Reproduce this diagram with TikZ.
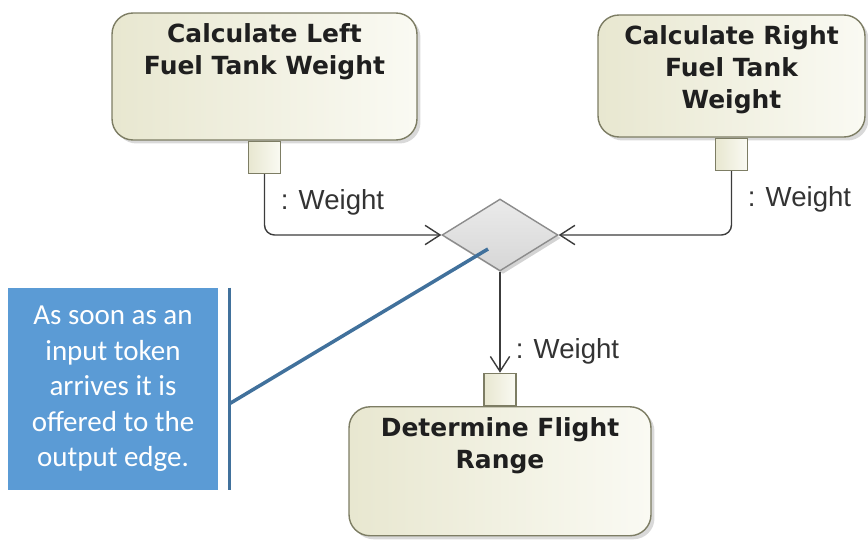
\documentclass[tikz,border=0pt]{standalone}
\usepackage{fontspec}
\setmainfont{Liberation Sans}
\newfontfamily\actfont{DejaVu Sans}
\newfontfamily\notefont{Carlito}
\usepackage{tikz}
\usetikzlibrary{arrows.meta}
\usetikzlibrary{positioning, shapes.geometric, shadows}
\definecolor{actline}{RGB}{125,125,100}
\definecolor{actdark}{RGB}{232,231,208}
\definecolor{actlight}{RGB}{250,250,243}
\definecolor{flowline}{RGB}{60,60,60}
\definecolor{notefill}{RGB}{91,155,213}
\definecolor{noteline}{RGB}{65,113,156}
\newcommand{\acttext}[3]{\parbox[c][#2][t]{#1}{\centering #3}}

\begin{document}
\begin{tikzpicture}[x=0.02cm, y=-0.02cm,
    action/.style={draw=actline, line width=0.8pt, rounded corners=0.42cm,
        left color=actdark, right color=actlight,
        drop shadow={shadow xshift=0.07cm, shadow yshift=-0.07cm, opacity=0.3},
        inner xsep=0pt, inner ysep=0.22cm, text=black!88,
        font=\actfont\fontsize{14.2}{18.1}\selectfont\bfseries},
    pinbox/.style={draw=actline, line width=0.8pt, left color=actdark, right color=actlight,
        minimum size=0.64cm, inner sep=0pt},
    decision/.style={diamond, draw=black!45, line width=0.8pt, top color=black!8, bottom color=black!16,
        drop shadow={shadow xshift=0.06cm, shadow yshift=-0.06cm, opacity=0.35},
        minimum width=2.32cm, minimum height=1.44cm, inner sep=0pt},
    flow/.style={draw=flowline, line width=0.8pt, rounded corners=0.2cm,
        -{Straight Barb[length=8.5pt, width=11pt]}},
    lbl/.style={font=\fontsize{15.7}{18}\selectfont, text=black!80, inner sep=0pt},
    notebox/.style={fill=notefill, text=white, minimum width=4.2cm, minimum height=4.04cm,
        align=center, inner sep=0pt, font=\notefont\fontsize{16.5}{20.2}\selectfont},
    callout/.style={draw=noteline, line width=2pt}]
    \useasboundingbox (0,0) rectangle (868,540);

    \node[action] (lcalc) at (264.5,76.5) {\acttext{6.1cm}{2.1cm}{Calculate Left\\Fuel Tank Weight}};
    \node[action] (rcalc) at (731.5,76) {\acttext{5.34cm}{2.0cm}{Calculate Right\\Fuel Tank\\Weight}};
    \node[pinbox, below=0pt of lcalc] (lpin) {};
    \node[pinbox, below=0pt of rcalc] (rpin) {};
    \node[decision] (merge) at (500,235) {};
    \node[pinbox, below=2.02cm of merge] (bpin) {};
    \node[action, below=0pt of bpin] (range) {\acttext{6.04cm}{2.14cm}{Determine Flight\\Range}};

    \draw[flow] (lpin.south) |- (merge.west);
    \draw[flow] (rpin.south) |- (merge.east);
    \draw[flow] (merge.south) -- (bpin.north);

    \node[lbl, anchor=base west] (lw) at ([xshift=0.32cm, yshift=-0.7cm]lpin.south) {: Weight};
    \node[lbl, anchor=base west] (rw) at ([xshift=0.32cm, yshift=-0.7cm]rpin.south) {: Weight};
    \node[lbl, anchor=base west] (bw) at ([xshift=0.31cm, yshift=0.28cm]bpin.north) {: Weight};

    \node[notebox] (note) at (113,389) {As soon as an\\input token\\arrives it is\\offered to the\\output edge.};
    \coordinate (brtop) at ([xshift=0.22cm]note.north east);
    \coordinate (brbot) at ([xshift=0.22cm]note.south east);
    \coordinate (brmid) at (229,404);
    \coordinate (tip) at (488,249);
    \draw[callout] (brtop) -- (brbot);
    \draw[callout] (brmid) -- (tip);
\end{tikzpicture}
\end{document}
